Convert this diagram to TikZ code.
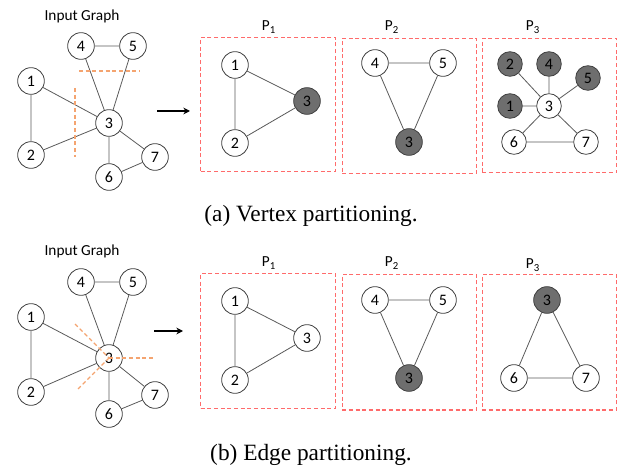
\documentclass[tikz,border=0pt]{standalone}
\usepackage{fontspec}
\setmainfont{Liberation Serif}
\newfontfamily\calibrifont{Carlito}
\usetikzlibrary{arrows.meta}
\definecolor{edgegray}{HTML}{5A5A5A}
\definecolor{boxred}{HTML}{FF6B6B}
\definecolor{cutorange}{HTML}{F4A470}
\definecolor{nodefill}{HTML}{6E6E6E}
\definecolor{nodeline}{HTML}{404040}
\tikzset{
  vtx/.style={circle, draw=nodeline, line width=0.6pt, fill=white, minimum size=20pt, inner sep=0pt, font=\calibrifont\fontsize{12}{13}\selectfont},
  svtx/.style={vtx, minimum size=18.5pt},
  shaded/.style={fill=nodefill},
  edge/.style={draw=edgegray, line width=0.6pt},
  partbox/.style={draw=boxred, dashed, dash pattern=on 3pt off 2pt, line width=0.8pt},
  cut/.style={draw=cutorange, dash pattern=on 3pt off 2pt, line width=0.8pt},
  plabel/.style={font=\calibrifont\fontsize{11.5}{12}\selectfont, inner sep=0pt},
  ttl/.style={font=\calibrifont\fontsize{11.5}{12}\selectfont, inner sep=0pt},
  caption/.style={font=\fontsize{17.5}{20}\selectfont, inner sep=0pt},
  arr/.style={draw=black, line width=0.9pt, -{Stealth[length=5pt,width=5pt]}}
}
\begin{document}
\begin{tikzpicture}[x=0.75pt,y=-0.75pt]
\useasboundingbox (0,0) rectangle (622,474);
% ================= (a) =================
\node[ttl] (ta) at (82,16) {Input Graph};
\node[vtx] (a4) at (81,46) {4};
\node[vtx] (a5) at (133,46) {5};
\node[vtx] (a1) at (31,81) {1};
\node[vtx] (a3) at (109,123) {3};
\node[vtx] (a2) at (31,155) {2};
\node[vtx] (a7) at (155,157) {7};
\node[vtx] (a6) at (109,177) {6};
\draw[edge] (a4) -- (a5) (a4) -- (a3) (a5) -- (a3) (a1) -- (a3) (a1) -- (a2)
  (a2) -- (a3) (a3) -- (a6) (a3) -- (a7) (a6) -- (a7);
\coordinate (ch1) at (79,71); \coordinate (ch2) at (140,71);
\coordinate (cv1) at (75,88); \coordinate (cv2) at (75,157);
\draw[cut] (ch1) -- (ch2);
\draw[cut] (cv1) -- (cv2);
\coordinate (aa1) at (157,111); \coordinate (aa2) at (190,111);
\draw[arr] (aa1) -- (aa2);
% partitions
\node[partbox, minimum width=101.25pt, minimum height=100.5pt, inner sep=0pt] (ap1) at (268.2,104.5) {};
\node[partbox, minimum width=100.8pt, minimum height=101.25pt, inner sep=0pt] (ap2) at (409.5,105.8) {};
\node[partbox, minimum width=100.8pt, minimum height=100.8pt, inner sep=0pt] (ap3) at (549.5,105.5) {};
\node[plabel] (apl1) at (269,27) {P\textsubscript{1}};
\node[plabel] (apl2) at (392,27) {P\textsubscript{2}};
\node[plabel] (apl3) at (533,27) {P\textsubscript{3}};
% P1
\node[vtx] (b1) at (235,65) {1};
\node[vtx,shaded] (b3) at (307,101) {3};
\node[vtx] (b2) at (235,143) {2};
\draw[edge] (b1) -- (b2) (b1) -- (b3) (b2) -- (b3);
% P2
\node[vtx] (c4) at (375,63) {4};
\node[vtx] (c5) at (443,63) {5};
\node[vtx,shaded] (c3) at (409,142) {3};
\draw[edge] (c4) -- (c5) (c4) -- (c3) (c5) -- (c3);
% P3
\node[svtx,shaded] (d2) at (510,64) {2};
\node[svtx,shaded] (d4) at (549,64) {4};
\node[svtx,shaded] (d5) at (588,78) {5};
\node[svtx,shaded] (d1) at (510,106) {1};
\node[svtx] (d3) at (549,106) {3};
\node[svtx] (d6) at (514,142) {6};
\node[svtx] (d7) at (586,142) {7};
\draw[edge] (d2) -- (d3) (d4) -- (d3) (d5) -- (d3) (d1) -- (d3) (d3) -- (d6) (d3) -- (d7) (d6) -- (d7);
\node[caption] (capa) at (311,216) {(a) Vertex partitioning.};
% ================= (b) =================
\node[ttl] (tb) at (82,251) {Input Graph};
\node[vtx] (e4) at (81,282) {4};
\node[vtx] (e5) at (133,282) {5};
\node[vtx] (e1) at (31,317) {1};
\node[vtx] (e3) at (109,358) {3};
\node[vtx] (e2) at (31,392) {2};
\node[vtx] (e7) at (155,395) {7};
\node[vtx] (e6) at (109,414) {6};
\draw[edge] (e4) -- (e5) (e4) -- (e3) (e5) -- (e3) (e1) -- (e3) (e1) -- (e2)
  (e2) -- (e3) (e3) -- (e6) (e3) -- (e7) (e6) -- (e7);
\coordinate (k1) at (75,324); \coordinate (k2) at (78,389); \coordinate (k3) at (155,358);
\draw[cut] (k1) -- (e3.center);
\draw[cut] (k2) -- (e3.center);
\draw[cut] (e3.center) -- (k3);
\coordinate (ba1) at (154,331); \coordinate (ba2) at (183,331);
\draw[arr] (ba1) -- (ba2);
\node[partbox, minimum width=101.25pt, minimum height=101.25pt, inner sep=0pt] (bp1) at (268.2,340.8) {};
\node[partbox, minimum width=100.8pt, minimum height=101.7pt, inner sep=0pt] (bp2) at (409.5,342.2) {};
\node[partbox, minimum width=100.8pt, minimum height=101.7pt, inner sep=0pt] (bp3) at (549.5,342.2) {};
\node[plabel] (bpl1) at (269,263) {P\textsubscript{1}};
\node[plabel] (bpl2) at (392,263) {P\textsubscript{2}};
\node[plabel] (bpl3) at (533,265) {P\textsubscript{3}};
% P1
\node[vtx] (f1) at (235,301) {1};
\node[vtx] (f3) at (307,338) {3};
\node[vtx] (f2) at (235,380) {2};
\draw[edge] (f1) -- (f2) (f1) -- (f3) (f2) -- (f3);
% P2
\node[vtx] (g4) at (375,300) {4};
\node[vtx] (g5) at (443,300) {5};
\node[vtx,shaded] (g3) at (409,378) {3};
\draw[edge] (g4) -- (g5) (g4) -- (g3) (g5) -- (g3);
% P3
\node[vtx,shaded] (h3) at (547,300) {3};
\node[vtx] (h6) at (514,378) {6};
\node[vtx] (h7) at (586,378) {7};
\draw[edge] (h3) -- (h6) (h3) -- (h7) (h6) -- (h7);
\node[caption] (capb) at (311,455) {(b) Edge partitioning.};
\end{tikzpicture}
\end{document}
